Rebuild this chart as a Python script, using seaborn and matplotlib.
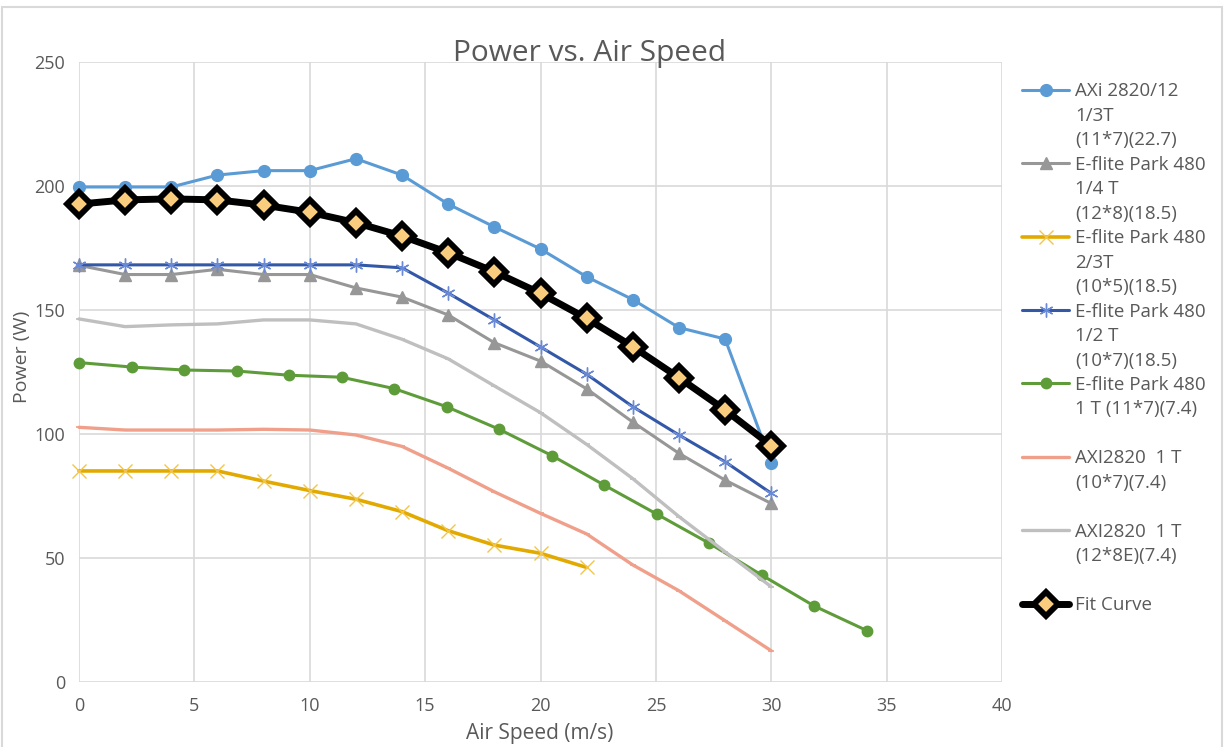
import matplotlib
matplotlib.use("Agg")
import matplotlib.pyplot as plt
from matplotlib.lines import Line2D
from matplotlib.patches import Rectangle
import seaborn as sns

# ---- data -------------------------------------------------------------
speed_even = [0, 2, 4, 6, 8, 10, 12, 14, 16, 18, 20, 22, 24, 26, 28, 30]

axi_2820_12 = [199.6, 199.6, 199.6, 204.4, 206.2, 206.2, 211.0, 204.4,
               192.7, 183.5, 174.6, 163.4, 154.2, 142.9, 138.3, 88.4]

eflite_1_4 = [168.0, 164.3, 164.3, 166.4, 164.3, 164.3, 158.9, 155.2,
              148.0, 136.8, 129.4, 118.2, 104.8, 92.2, 81.4, 72.0]

speed_2_3 = [0, 2, 4, 6, 8, 10, 12, 14, 16, 18, 20, 22]
eflite_2_3 = [85.1, 85.1, 85.1, 85.1, 81.0, 77.2, 73.7, 68.7, 61.0, 55.2, 51.9, 46.2]

eflite_1_2 = [168.2, 168.2, 168.2, 168.2, 168.2, 168.2, 168.2, 167.0,
              156.8, 146.0, 135.1, 124.1, 111.0, 99.6, 88.8, 76.1]

speed_1t = [0, 2.28, 4.55, 6.83, 9.1, 11.38, 13.66, 15.93,
            18.21, 20.49, 22.76, 25.04, 27.32, 29.59, 31.87, 34.15]
eflite_1t = [128.8, 127.0, 125.8, 125.4, 123.7, 122.9, 118.3, 111.0,
             101.9, 91.3, 79.4, 67.7, 55.9, 43.1, 30.6, 20.7]

axi2820_1t_10x7 = [102.7, 101.6, 101.6, 101.6, 101.9, 101.6, 99.6, 95.0,
                   86.2, 76.7, 68.0, 59.7, 47.2, 36.8, 24.7, 12.6]

axi2820_1t_12x8e = [146.4, 143.3, 144.0, 144.4, 146.0, 146.0, 144.4, 138.2,
                    130.3, 119.4, 108.6, 95.8, 82.0, 66.7, 52.5, 38.4]

fit_curve = [192.7, 194.4, 194.8, 194.4, 192.3, 189.4, 185.2, 179.8,
             173.1, 165.4, 156.7, 146.6, 135.2, 122.7, 109.7, 95.3]

legend_labels = [
    ["AXi 2820/12", "1/3T", "(11*7)(22.7)"],
    ["E-flite Park 480", "1/4 T", "(12*8)(18.5)"],
    ["E-flite Park 480", "2/3T", "(10*5)(18.5)"],
    ["E-flite Park 480", "1/2 T", "(10*7)(18.5)"],
    ["E-flite Park 480", "1 T (11*7)(7.4)", ""],
    ["AXI2820  1 T", "(10*7)(7.4)", ""],
    ["AXI2820  1 T", "(12*8E)(7.4)", ""],
    ["Fit Curve"],
]

x_ticks = [0, 5, 10, 15, 20, 25, 30, 35, 40]
y_ticks = [0, 50, 100, 150, 200, 250]

# ---- styling ----------------------------------------------------------
sns.set_theme(style="white")
plt.rcParams["font.family"] = ["Open Sans", "DejaVu Sans"]
TEXT = "#595959"
GRID = "#d9d9d9"

W, H = 1225, 747
fig = plt.figure(figsize=(W / 100, H / 100), dpi=100)
fig.patch.set_facecolor("white")
ax = fig.add_axes([79 / W, 1 - 682 / H, (1002 - 79) / W, (682 - 62) / H])

# chart border
fig.patches.append(Rectangle((2 / W, -0.01), (1222 - 2) / W, 1 - 7 / H + 0.01,
                             transform=fig.transFigure, fill=False,
                             edgecolor=GRID, linewidth=1.5, zorder=0))

series = [
    dict(x=speed_even, y=axi_2820_12, color="#5B9BD5", marker="o", ms=8.5,
         mec="#5B9BD5", mfc="#5B9BD5", mew=1, lw=2.2),
    dict(x=speed_even, y=eflite_1_4, color="#979797", marker="^", ms=8.5,
         mec="#979797", mfc="#979797", mew=1, lw=2.2),
    dict(x=speed_2_3, y=eflite_2_3, color="#E2AA00", marker="x", ms=10,
         mec="#F1C54A", mfc="none", mew=1.0, lw=2.6),
    dict(x=speed_even, y=eflite_1_2, color="#3458A8", marker=(6, 2, 0), ms=10,
         mec="#6A8AD6", mfc="none", mew=1.0, lw=2.2),
    dict(x=speed_1t, y=eflite_1t, color="#5E9C3A", marker="o", ms=7.5,
         mec="#5E9C3A", mfc="#5E9C3A", mew=1, lw=2.2),
    dict(x=speed_even, y=axi2820_1t_10x7, color="#F0A08A", marker="_", ms=4,
         mec="#F0A08A", mfc="#F0A08A", mew=1.2, lw=2.4),
    dict(x=speed_even, y=axi2820_1t_12x8e, color="#BFBFBF", marker="_", ms=4,
         mec="#BFBFBF", mfc="#BFBFBF", mew=1.2, lw=2.4),
    dict(x=speed_even, y=fit_curve, color="black", marker="D", ms=12.5,
         mec="black", mfc="#F9CC7E", mew=4.2, lw=5),
]

handles = []
for s in series:
    sns.lineplot(x=s["x"], y=s["y"], ax=ax, color=s["color"], linewidth=s["lw"],
                 marker=s["marker"], markersize=s["ms"], markeredgecolor=s["mec"],
                 markerfacecolor=s["mfc"], markeredgewidth=s["mew"],
                 estimator=None, sort=False, legend=False, clip_on=False)
    handles.append(Line2D([], [], color=s["color"], linewidth=s["lw"],
                          marker=s["marker"], markersize=s["ms"],
                          markeredgecolor=s["mec"], markerfacecolor=s["mfc"],
                          markeredgewidth=s["mew"]))

ax.set_xlim(0, 40)
ax.set_ylim(0, 250)
ax.set_xticks(x_ticks)
ax.set_yticks(y_ticks)
ax.grid(True, color=GRID, linewidth=1.2)
ax.set_axisbelow(True)
for sp in ax.spines.values():
    sp.set_visible(False)
ax.tick_params(axis="both", length=0, labelsize=13, labelcolor=TEXT)
ax.tick_params(axis="x", pad=11)
ax.tick_params(axis="y", pad=10)
ax.set_xlabel("")
ax.set_ylabel("")

fig.text(590 / W, 1 - 53 / H, "Power vs. Air Speed", ha="center", va="center",
         fontsize=21.5, color=TEXT)
fig.text(22 / W, 1 - 357 / H, "Power (W)", ha="center", va="center",
         rotation=90, fontsize=14, color=TEXT)
fig.text(540 / W, 1 - 733 / H, "Air Speed (m/s)", ha="center", va="center",
         fontsize=15, color=TEXT)

# legend: one row per text line, handle on the first line of each entry
blank = Line2D([], [], linestyle="none", marker=None)
leg_handles, leg_texts = [], []
for h, lines in zip(handles, legend_labels):
    for i, t in enumerate(lines):
        leg_handles.append(h if i == 0 else blank)
        leg_texts.append(t)

leg = fig.legend(leg_handles, leg_texts, loc="upper left",
                 bbox_to_anchor=(1013 / W, 1 - 73 / H),
                 frameon=False, fontsize=13.5, labelspacing=0.345,
                 handlelength=2.5, handletextpad=0.3, borderpad=0,
                 handleheight=0.7)
for t in leg.get_texts():
    t.set_color(TEXT)

fig.savefig("out.png", dpi=100, facecolor="white")
